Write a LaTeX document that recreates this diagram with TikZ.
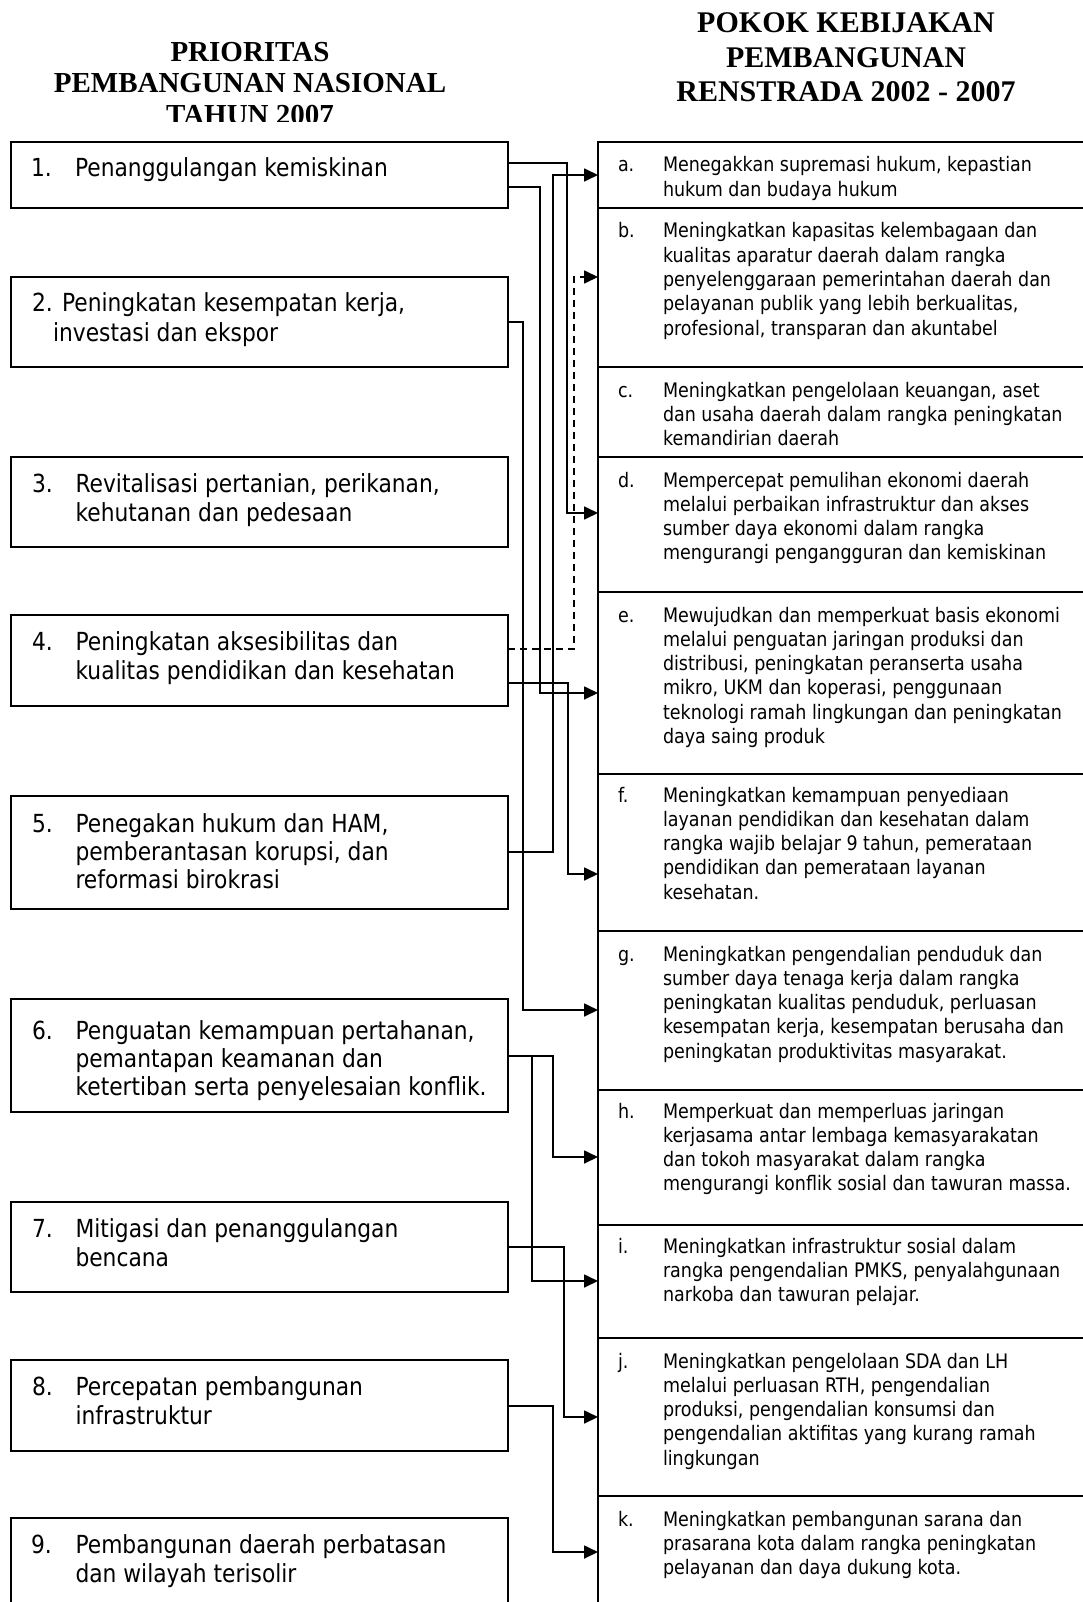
\documentclass[tikz,border=0pt]{standalone}
\usepackage{fontspec}
\usetikzlibrary{arrows.meta}
\newfontfamily\bodyfont[FakeStretch=0.875]{DejaVu Sans}
\newfontfamily\headfont{Liberation Serif}
\newcommand\lfont{\bodyfont\fontsize{24.9}{29.5}\selectfont}
\newcommand\lfontb{\bodyfont\fontsize{24.9}{28}\selectfont}
\newcommand\rfont{\bodyfont\fontsize{20}{24.3}\selectfont}
\newcommand\hfontl{\headfont\bfseries\fontsize{29}{32}\selectfont}
\newcommand\hfontr{\headfont\bfseries\fontsize{30}{34}\selectfont}
\newcommand\lpar[1]{\parbox[t]{440pt}{\raggedright #1}}
\newcommand\rpar[1]{\parbox[t]{440pt}{\raggedright #1}}
\tikzset{
  lbox/.style={draw, line width=1.7pt, anchor=north west, minimum width=497pt, inner sep=0pt, outer sep=0pt},
  rbox/.style={draw, line width=1.7pt, anchor=north west, minimum width=540pt, inner sep=0pt, outer sep=0pt},
  ltxt/.style={anchor=base west, inner sep=0pt, outer sep=0pt, font=\lfont},
  ltxtb/.style={anchor=base west, inner sep=0pt, outer sep=0pt, font=\lfontb},
  rtxt/.style={anchor=base west, inner sep=0pt, outer sep=0pt, font=\rfont},
  hleft/.style={anchor=base, inner sep=0pt, font=\hfontl},
  hright/.style={anchor=base, inner sep=0pt, font=\hfontr},
  conn/.style={line width=1.7pt, -{Triangle[length=14pt,width=13pt]}},
  dconn/.style={conn, dash pattern=on 7pt off 5pt}
}
\begin{document}
\begin{tikzpicture}[x=1pt,y=-1pt]
\useasboundingbox (0,0) rectangle (1083,1602);
\begin{scope}
\clip (0,0) rectangle (1083,1602);

% ---------- headers ----------
\begin{scope}
\clip (0,0) rectangle (560,122);
\node[hleft] (hl1) at (250,62) {PRIORITAS};
\node[hleft] (hl2) at (250,93) {PEMBANGUNAN NASIONAL};
\node[hleft] (hl3) at (250,125) {TAHUN 2007};
\end{scope}
\node[hright] (hr1) at (846,33) {POKOK KEBIJAKAN};
\node[hright] (hr2) at (846,68) {PEMBANGUNAN};
\node[hright] (hr3) at (846,102) {RENSTRADA 2002 - 2007};

% ---------- left boxes ----------
\node[lbox, minimum height=66pt] (L1) at (11,142) {};
\node[lbox, minimum height=90pt] (L2) at (11,277) {};
\node[lbox, minimum height=90pt] (L3) at (11,457) {};
\node[lbox, minimum height=91pt] (L4) at (11,615) {};
\node[lbox, minimum height=113pt] (L5) at (11,796) {};
\node[lbox, minimum height=113pt] (L6) at (11,999) {};
\node[lbox, minimum height=90pt] (L7) at (11,1202) {};
\node[lbox, minimum height=91pt] (L8) at (11,1360) {};
\node[lbox, minimum height=130pt] (L9) at (11,1518) {};

\node[ltxt] (n1) at (31,177) {1.};
\node[ltxt] (t1) at (75,177) {Penanggulangan kemiskinan};
\node[ltxt] (t2) at (32,312) {\lpar{2. Peningkatan kesempatan kerja,\\\hspace*{21pt}investasi dan ekspor}};
\node[ltxt] (n3) at (32,492) {3.};
\node[ltxt] (t3) at (75.5,492) {\lpar{Revitalisasi pertanian, perikanan,\\kehutanan dan pedesaan}};
\node[ltxt] (n4) at (32,650) {4.};
\node[ltxt] (t4) at (75.5,650) {\lpar{Peningkatan aksesibilitas dan\\kualitas pendidikan dan kesehatan}};
\node[ltxtb] (n5) at (32,832) {5.};
\node[ltxtb] (t5) at (75.5,832) {\lpar{Penegakan hukum dan HAM,\\pemberantasan korupsi, dan\\reformasi birokrasi}};
\node[ltxtb] (n6) at (32,1039) {6.};
\node[ltxtb] (t6) at (75.5,1039) {\lpar{Penguatan kemampuan pertahanan,\\pemantapan keamanan dan\\ketertiban serta penyelesaian konflik.}};
\node[ltxt] (n7) at (32,1237) {7.};
\node[ltxt] (t7) at (75.5,1237) {\lpar{Mitigasi dan penanggulangan\\bencana}};
\node[ltxt] (n8) at (32,1395) {8.};
\node[ltxt] (t8) at (75.5,1395) {\lpar{Percepatan pembangunan\\infrastruktur}};
\node[ltxt] (n9) at (31,1553) {9.};
\node[ltxt] (t9) at (75.5,1553) {\lpar{Pembangunan daerah perbatasan\\dan wilayah terisolir}};

% ---------- right boxes ----------
\node[rbox, minimum height=66pt] (Ra) at (598,142) {};
\node[rbox, minimum height=159pt] (Rb) at (598,208) {};
\node[rbox, minimum height=90pt] (Rc) at (598,367) {};
\node[rbox, minimum height=135pt] (Rd) at (598,457) {};
\node[rbox, minimum height=182pt] (Re) at (598,592) {};
\node[rbox, minimum height=157pt] (Rf) at (598,774) {};
\node[rbox, minimum height=159pt] (Rg) at (598,931) {};
\node[rbox, minimum height=135pt] (Rh) at (598,1090) {};
\node[rbox, minimum height=113pt] (Ri) at (598,1225) {};
\node[rbox, minimum height=158pt] (Rj) at (598,1338) {};
\node[rbox, minimum height=160pt] (Rk) at (598,1496) {};

\node[rtxt] (na) at (618,172) {a.};
\node[rtxt] (ta) at (663,172) {\rpar{Menegakkan supremasi hukum, kepastian\\hukum dan budaya hukum}};
\node[rtxt] (nb) at (618,238) {b.};
\node[rtxt] (tb) at (663,238) {\rpar{Meningkatkan kapasitas kelembagaan dan\\kualitas aparatur daerah dalam rangka\\penyelenggaraan pemerintahan daerah dan\\pelayanan publik yang lebih berkualitas,\\profesional, transparan dan akuntabel}};
\node[rtxt] (nc) at (618,397) {c.};
\node[rtxt] (tc) at (663,397) {\rpar{Meningkatkan pengelolaan keuangan, aset\\dan usaha daerah dalam rangka peningkatan\\kemandirian daerah}};
\node[rtxt] (nd) at (618,487) {d.};
\node[rtxt] (td) at (663,487) {\rpar{Mempercepat pemulihan ekonomi daerah\\melalui perbaikan infrastruktur dan akses\\sumber daya ekonomi dalam rangka\\mengurangi pengangguran dan kemiskinan}};
\node[rtxt] (ne) at (618,622) {e.};
\node[rtxt] (te) at (663,622) {\rpar{Mewujudkan dan memperkuat basis ekonomi\\melalui penguatan jaringan produksi dan\\distribusi, peningkatan peranserta usaha\\mikro, UKM dan koperasi, penggunaan\\teknologi ramah lingkungan dan peningkatan\\daya saing produk}};
\node[rtxt] (nf) at (618,802) {f.};
\node[rtxt] (tf) at (663,802) {\rpar{Meningkatkan kemampuan penyediaan\\layanan pendidikan dan kesehatan dalam\\rangka wajib belajar 9 tahun, pemerataan\\pendidikan dan pemerataan layanan\\kesehatan.}};
\node[rtxt] (ng) at (618,961) {g.};
\node[rtxt] (tg) at (663,961) {\rpar{Meningkatkan pengendalian penduduk dan\\sumber daya tenaga kerja dalam rangka\\peningkatan kualitas penduduk, perluasan\\kesempatan kerja, kesempatan berusaha dan\\peningkatan produktivitas masyarakat.}};
\node[rtxt] (nh) at (618,1118) {h.};
\node[rtxt] (th) at (663,1118) {\rpar{Memperkuat dan memperluas jaringan\\kerjasama antar lembaga kemasyarakatan\\dan tokoh masyarakat dalam rangka\\mengurangi konflik sosial dan tawuran massa.}};
\node[rtxt] (ni) at (618,1253) {i.};
\node[rtxt] (ti) at (663,1253) {\rpar{Meningkatkan infrastruktur sosial dalam\\rangka pengendalian PMKS, penyalahgunaan\\narkoba dan tawuran pelajar.}};
\node[rtxt] (nj) at (618,1368) {j.};
\node[rtxt] (tj) at (663,1368) {\rpar{Meningkatkan pengelolaan SDA dan LH\\melalui perluasan RTH, pengendalian\\produksi, pengendalian konsumsi dan\\pengendalian aktifitas yang kurang ramah\\lingkungan}};
\node[rtxt] (nk) at (618,1526) {k.};
\node[rtxt] (tk) at (663,1526) {\rpar{Meningkatkan pembangunan sarana dan\\prasarana kota dalam rangka peningkatan\\pelayanan dan daya dukung kota.}};

% ---------- connectors ----------
\draw[conn] (L5.east |- 0,852) -| (553,175) -- (Ra.west |- 0,175);
\draw[dconn] (L4.east |- 0,649) -| (574,277) -- (Rb.west |- 0,277);
\draw[conn] (L1.east |- 0,163) -| (567,513) -- (Rd.west |- 0,513);
\draw[conn] (L1.east |- 0,187) -| (540,693) -- (Re.west |- 0,693);
\draw[conn] (L4.east |- 0,683) -| (568,874) -- (Rf.west |- 0,874);
\draw[conn] (L2.east |- 0,322) -| (523,1010) -- (Rg.west |- 0,1010);
\draw[conn] (L6.east |- 0,1056) -| (553,1157) -- (Rh.west |- 0,1157);
\draw[conn] (L6.east |- 0,1056) -| (532,1281) -- (Ri.west |- 0,1281);
\draw[conn] (L7.east |- 0,1247) -| (564,1417) -- (Rj.west |- 0,1417);
\draw[conn] (L8.east |- 0,1406) -| (553,1552) -- (Rk.west |- 0,1552);
\end{scope}
\end{tikzpicture}
\end{document}
